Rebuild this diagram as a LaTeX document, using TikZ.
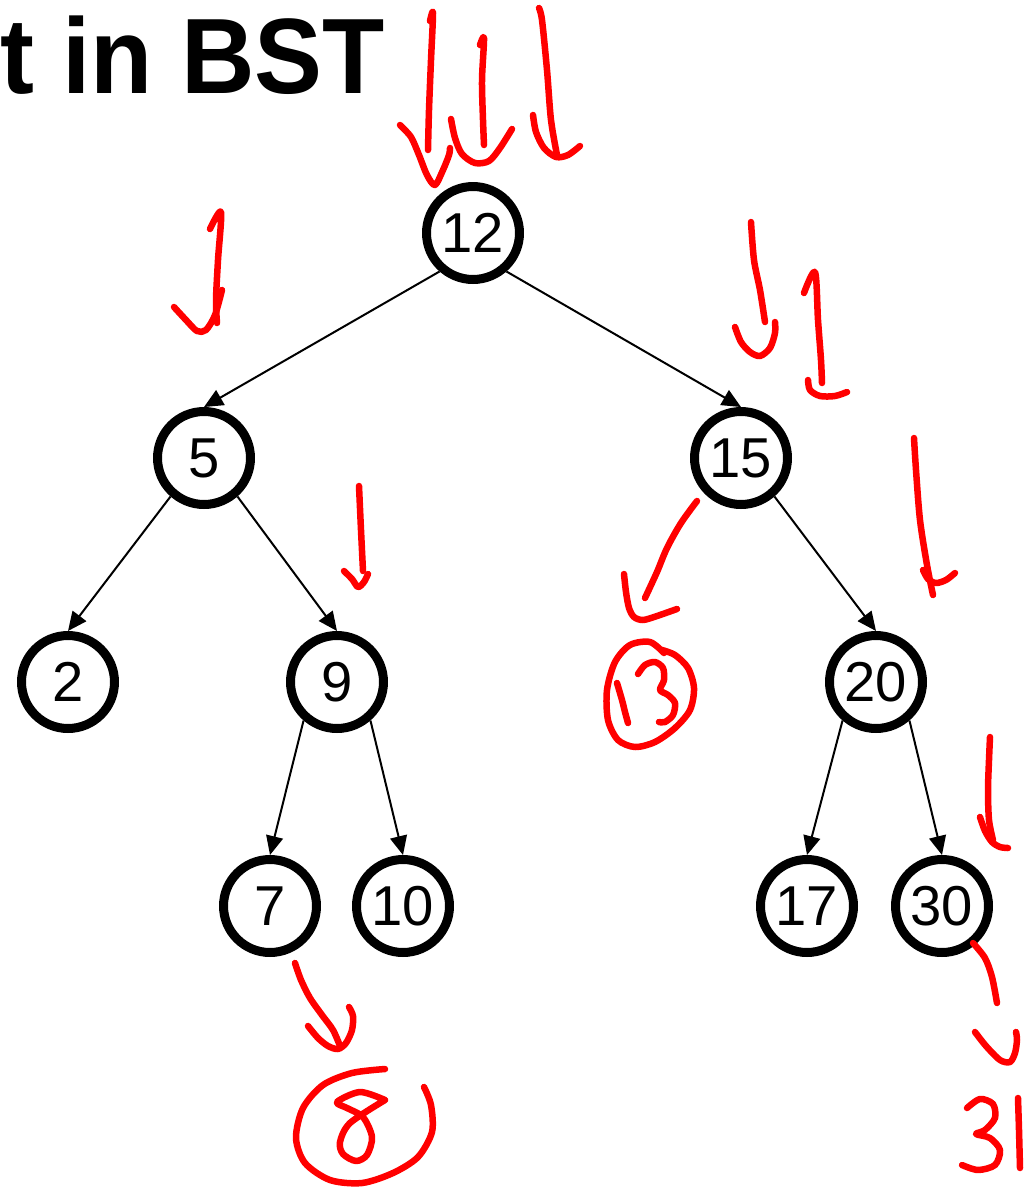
\documentclass[tikz,border=0pt]{standalone}
\usepackage{fontspec}
\setmainfont{Liberation Sans}
\usetikzlibrary{arrows.meta}
\definecolor{penred}{RGB}{255,0,0}

\tikzset{
  key/.style={circle, draw, line width=0.18cm, minimum size=1.86cm, inner sep=0pt,
    font=\fontsize{32}{38}\selectfont},
  link/.style={line width=0.04cm, -{Triangle[length=0.38cm,width=0.34cm]}},
  pen/.style={draw=penred, line width=0.13cm, line cap=round, line join=round},
}

\begin{document}
\begin{tikzpicture}[x=0.02cm, y=-0.02cm]
  \useasboundingbox (0,0) rectangle (1028,1191);

  \node[anchor=base west, inner sep=0pt, font=\bfseries\fontsize{61}{70}\selectfont]
    (title) at (0,93) {\scalebox{0.95}[1]{t in BST}};

  \foreach \v/\x/\y in {12/473/233, 5/204/458, 15/741/458, 2/68/682, 9/337/682,
                        20/876/682, 7/270/906, 10/403/906, 17/807/906, 30/942/906} {
    \node[key] (n\v) at (\x,\y) {\v};
  }

  \foreach \a/\b/\ang in {12/5/-131, 12/15/-49, 5/2/-131, 5/9/-49, 9/7/-131,
                          9/10/-49, 15/20/-49, 20/17/-131, 20/30/-49} {
    \draw[link] (n\a.\ang) -- (n\b.north);
  }

  % pen marks
  \draw[pen] plot[smooth] coordinates {(430,21) (433,13) (431,60) (429,110) (428,150)};
  \draw[pen] plot[smooth] coordinates {(400,125) (411,137) (419,155) (427,175) (435,185) (443,170) (449,155) (450,148)};
  \draw[pen] plot[smooth] coordinates {(480,45) (484,38) (482,80) (483,120) (484,145)};
  \draw[pen] plot[smooth] coordinates {(451,119) (455,138) (462,154) (475,163) (489,161) (500,148) (512,129)};
  \draw[pen] plot[smooth] coordinates {(539,8) (542,20) (547,70) (551,120) (557,155)};
  \draw[pen] plot[smooth] coordinates {(533,115) (536,132) (544,148) (556,157) (568,155) (580,146)};

  \draw[pen] plot[smooth] coordinates {(210,229) (221,212) (218,260) (216,300) (217,323)};
  \draw[pen] plot[smooth] coordinates {(174,307) (186,320) (197,331) (206,330) (215,315) (222,290)};

  \draw[pen] plot[smooth] coordinates {(751,222) (754,260) (760,290) (765,322)};
  \draw[pen] plot[smooth] coordinates {(735,327) (741,342) (750,352) (760,356) (770,348) (775,333) (775,322)};
  \draw[pen] plot[smooth] coordinates {(804,293) (815,272) (818,320) (821,360) (822,383)};
  \draw[pen] plot[smooth] coordinates {(808,380) (810,390) (820,396) (835,396) (847,392)};

  \draw[pen] plot[smooth] coordinates {(359,486) (361,530) (363,571)};
  \draw[pen] plot[smooth] coordinates {(344,571) (352,579) (358,587) (364,582) (368,574)};

  \draw[pen] plot[smooth] coordinates {(914,438) (916,470) (920,520) (927,565) (933,595)};
  \draw[pen] plot[smooth] coordinates {(923,570) (928,579) (936,583) (946,580) (955,573)};

  % 13 below 15
  \draw[pen] plot[smooth] coordinates {(697,501) (681,523) (667,548) (657,572) (645,598)};
  \draw[pen] plot[smooth] coordinates {(624,574) (626,592) (629,608) (634,617) (643,620) (657,616) (677,609)};
  \draw[pen] plot[smooth] coordinates {(664,653) (650,642) (630,645) (615,662) (607,690) (608,720) (618,740)
    (635,747) (655,742) (675,728) (690,710) (694,688) (688,668) (675,655) (662,650)};
  \draw[pen] plot[smooth] coordinates {(617,683) (622,700) (625,712) (628,723)};
  \draw[pen] plot[smooth] coordinates {(638,674) (645,665) (655,662) (663,668) (664,680) (660,690)
    (668,695) (675,703) (673,715) (665,722) (659,722)};

  % 8 below 7
  \draw[pen] plot[smooth] coordinates {(295,963) (301,980) (310,998) (322,1015) (333,1030) (340,1046)};
  \draw[pen] plot[smooth] coordinates {(308,1026) (318,1038) (328,1046) (338,1049) (346,1043) (352,1030) (353,1016) (349,1007)};
  \draw[pen] plot[smooth] coordinates {(385,1069) (352,1073) (323,1085) (303,1108) (296,1138) (305,1163)
    (330,1180) (362,1183) (393,1173) (418,1157) (432,1132) (431,1105) (424,1087)};
  \draw[pen] plot[smooth] coordinates {(385,1100) (360,1092) (337,1102) (347,1108) (363,1117) (372,1137)
    (367,1155) (356,1161) (343,1154) (340,1142) (350,1123) (385,1100)};

  % 31 below 30
  \draw[pen] plot[smooth] coordinates {(990,737) (989,760) (988,790) (989,820) (993,840)};
  \draw[pen] plot[smooth] coordinates {(980,817) (985,831) (992,842) (1000,847) (1008,848)};
  \draw[pen] plot[smooth] coordinates {(973,943) (985,958) (992,977) (997,1003)};
  \draw[pen] plot[smooth] coordinates {(975,1032) (986,1046) (1000,1060) (1010,1062) (1015,1053) (1017,1040) (1016,1032)};
  \draw[pen] plot[smooth] coordinates {(967,1108) (980,1099) (993,1104) (995,1118) (985,1130) (976,1134)
    (990,1138) (1000,1150) (995,1165) (978,1170) (962,1165)};
  \draw[pen] plot[smooth] coordinates {(1018,1098) (1019,1130) (1020,1168)};
\end{tikzpicture}
\end{document}
